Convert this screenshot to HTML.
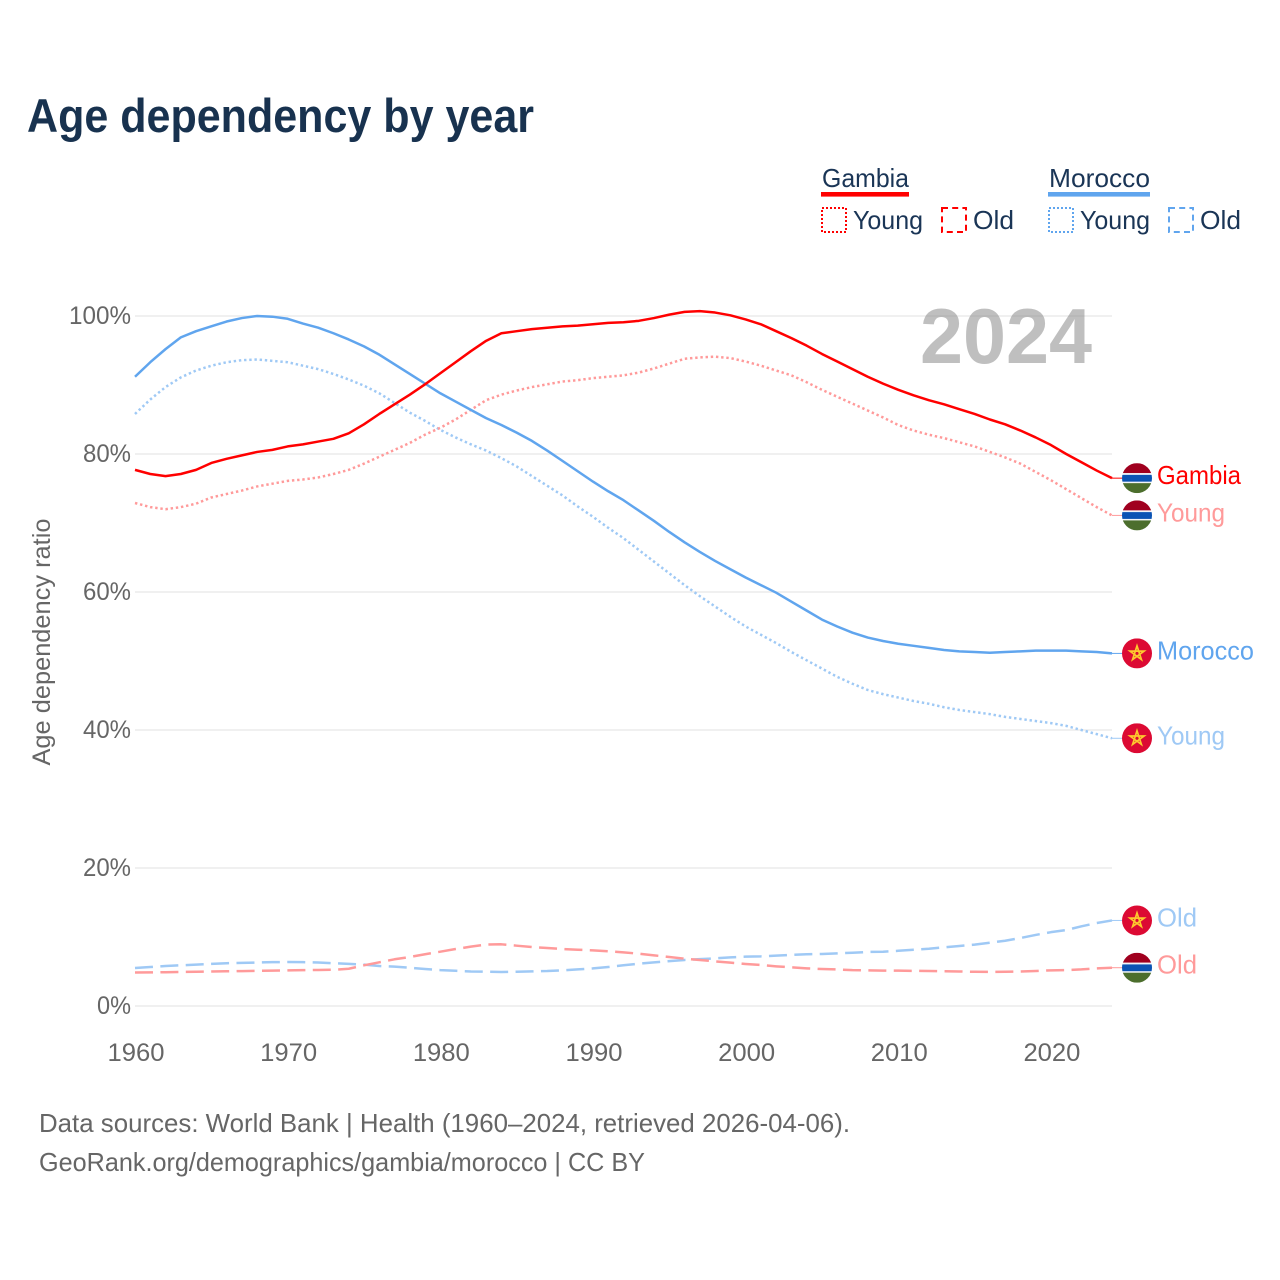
<!DOCTYPE html>
<html lang="en">
<head>
<meta charset="utf-8">
<title>Age dependency by year</title>
<style>
html,body{margin:0;padding:0;background:#fff;}
svg{display:block;}
text{font-family:"Liberation Sans",sans-serif;}
</style>
</head>
<body>
<svg id="chart" xmlns="http://www.w3.org/2000/svg" width="1280" height="1280" viewBox="0 0 1280 1280">
  <defs>
    <clipPath id="flag-clip"><circle cx="0" cy="0" r="15"/></clipPath>
    <g id="flag-gambia" clip-path="url(#flag-clip)">
      <rect x="-15" y="-15" width="30" height="10" fill="#a0001f"/>
      <rect x="-15" y="-5" width="30" height="10" fill="#f2f4f8"/>
      <rect x="-15" y="-3.3" width="30" height="6.8" fill="#0b53b4"/>
      <rect x="-15" y="5" width="30" height="10" fill="#4c6e2d"/>
    </g>
    <g id="flag-morocco" clip-path="url(#flag-clip)">
      <rect x="-15" y="-15" width="30" height="30" fill="#dc0a33"/>
      <polygon points="0,-7.5 4.4,6.1 -7.1,-2.3 7.1,-2.3 -4.4,6.1" fill="none" stroke="#fdc92e" stroke-width="1.7"/>
    </g>
  </defs>

  <rect x="0" y="0" width="1280" height="1280" fill="#ffffff"/>

  <text x="27" y="132" font-size="47" font-weight="700" fill="#18324f" textLength="507" lengthAdjust="spacingAndGlyphs">Age dependency by year</text>

  <g font-size="26" fill="#1a3556">
    <text x="822" y="187" textLength="87" lengthAdjust="spacingAndGlyphs">Gambia</text>
    <rect x="821" y="192" width="88" height="4.6" fill="#ff0000"/>
    <rect x="822" y="208" width="24" height="24" fill="none" stroke="#ff0000" stroke-width="2" stroke-dasharray="2 2"/>
    <text x="853" y="229" textLength="70" lengthAdjust="spacingAndGlyphs">Young</text>
    <rect x="942" y="208" width="24" height="24" fill="none" stroke="#ff0000" stroke-width="2" stroke-dasharray="6 4.2"/>
    <text x="973" y="229" textLength="41" lengthAdjust="spacingAndGlyphs">Old</text>

    <text x="1049" y="187" textLength="101" lengthAdjust="spacingAndGlyphs">Morocco</text>
    <rect x="1048" y="192" width="102" height="4.6" fill="#60a5ee"/>
    <rect x="1049" y="208" width="24" height="24" fill="none" stroke="#60a5ee" stroke-width="2" stroke-dasharray="2 2"/>
    <text x="1080" y="229" textLength="70" lengthAdjust="spacingAndGlyphs">Young</text>
    <rect x="1169" y="208" width="24" height="24" fill="none" stroke="#60a5ee" stroke-width="2" stroke-dasharray="6 4.2"/>
    <text x="1200" y="229" textLength="41" lengthAdjust="spacingAndGlyphs">Old</text>
  </g>

  <g id="grid"></g>
  <g id="yticks"></g>
  <g id="xticks"></g>

  <text transform="translate(50,642) rotate(-90)" text-anchor="middle" font-size="25" fill="#666666" textLength="247" lengthAdjust="spacingAndGlyphs">Age dependency ratio</text>

  <text x="920" y="363" font-size="78" font-weight="700" fill="#808080" fill-opacity="0.5" textLength="172" lengthAdjust="spacingAndGlyphs">2024</text>

  <g id="series"></g>
  <g id="endlabels"></g>

  <text x="39" y="1132" font-size="26" fill="#666666" textLength="811" lengthAdjust="spacingAndGlyphs">Data sources: World Bank | Health (1960–2024, retrieved 2026-04-06).</text>
  <text x="39" y="1171" font-size="26" fill="#666666" textLength="606" lengthAdjust="spacingAndGlyphs">GeoRank.org/demographics/gambia/morocco | CC BY</text>
</svg>

<script>
const years = [1960,1961,1962,1963,1964,1965,1966,1967,1968,1969,1970,1971,1972,1973,1974,1975,1976,1977,1978,1979,1980,1981,1982,1983,1984,1985,1986,1987,1988,1989,1990,1991,1992,1993,1994,1995,1996,1997,1998,1999,2000,2001,2002,2003,2004,2005,2006,2007,2008,2009,2010,2011,2012,2013,2014,2015,2016,2017,2018,2019,2020,2021,2022,2023,2024];
const yTickValues = [0,20,40,60,80,100];
const xTickValues = [1960,1970,1980,1990,2000,2010,2020];

const gambiaTotal = [77.7,77.1,76.8,77.1,77.7,78.7,79.3,79.8,80.3,80.6,81.1,81.4,81.8,82.2,83,84.3,85.8,87.2,88.6,90.1,91.7,93.3,94.9,96.4,97.5,97.8,98.1,98.3,98.5,98.6,98.8,99,99.1,99.3,99.7,100.2,100.6,100.7,100.5,100.1,99.5,98.8,97.8,96.8,95.7,94.5,93.4,92.3,91.2,90.2,89.3,88.5,87.8,87.2,86.5,85.8,85,84.3,83.4,82.4,81.3,80,78.8,77.6,76.5];
const gambiaYoung = [72.9,72.3,72,72.3,72.8,73.7,74.2,74.7,75.3,75.7,76.1,76.3,76.6,77.1,77.7,78.6,79.6,80.6,81.6,82.8,83.8,85,86.4,87.8,88.6,89.2,89.7,90.1,90.5,90.7,91,91.2,91.4,91.8,92.4,93.1,93.8,94,94.1,93.9,93.4,92.8,92.1,91.4,90.4,89.3,88.3,87.3,86.3,85.3,84.2,83.4,82.8,82.3,81.7,81.1,80.3,79.5,78.6,77.4,76.2,74.9,73.6,72.3,71.1];
const gambiaOld = [4.85,4.87,4.9,4.93,4.96,5,5.03,5.06,5.1,5.13,5.17,5.2,5.22,5.25,5.4,5.9,6.33,6.77,7.1,7.5,7.87,8.26,8.6,8.9,8.94,8.74,8.55,8.4,8.26,8.16,8.07,7.93,7.78,7.58,7.34,7.1,6.86,6.67,6.47,6.28,6.09,5.94,5.75,5.6,5.46,5.36,5.3,5.2,5.17,5.13,5.12,5.09,5.07,5.03,5,4.96,4.95,4.96,5,5.07,5.17,5.2,5.3,5.46,5.55];
const moroccoTotal = [91.2,93.3,95.2,96.9,97.8,98.5,99.2,99.7,100,99.9,99.6,98.9,98.3,97.5,96.6,95.6,94.4,93,91.6,90.2,88.8,87.6,86.4,85.2,84.2,83.1,81.9,80.5,79,77.5,76,74.6,73.3,71.8,70.3,68.7,67.2,65.8,64.5,63.3,62.1,61,59.9,58.6,57.3,56,55,54.1,53.4,52.9,52.5,52.2,51.9,51.6,51.4,51.3,51.2,51.3,51.4,51.5,51.5,51.5,51.4,51.3,51.1];
const moroccoYoung = [85.8,87.9,89.7,91.1,92.1,92.8,93.3,93.6,93.7,93.5,93.3,92.8,92.3,91.6,90.8,89.9,88.8,87.4,86,84.8,83.5,82.4,81.4,80.5,79.4,78.2,76.8,75.4,74,72.4,70.9,69.3,67.8,66.1,64.4,62.7,61,59.4,57.9,56.4,55,53.8,52.6,51.3,50.1,48.9,47.7,46.7,45.8,45.2,44.7,44.2,43.8,43.3,42.9,42.6,42.3,41.9,41.6,41.3,41,40.6,40,39.4,38.8];
const moroccoOld = [5.5,5.65,5.8,5.9,6,6.1,6.2,6.25,6.3,6.35,6.38,6.35,6.3,6.2,6.1,6,5.8,5.7,5.55,5.36,5.2,5.1,5,4.97,4.93,4.97,5.02,5.07,5.17,5.3,5.45,5.65,5.9,6.13,6.33,6.5,6.67,6.8,6.9,7.05,7.15,7.2,7.3,7.4,7.5,7.54,7.63,7.72,7.83,7.87,8,8.16,8.3,8.5,8.7,8.9,9.17,9.46,9.85,10.3,10.7,11,11.55,12.03,12.4];

const NS = 'http://www.w3.org/2000/svg';
const RED = '#ff0000', BLUE = '#60a5ee', RED_SOFT = '#ff9a9a', BLUE_SOFT = '#9fc9f5';
const xScale = function (yr) { return 135 + (yr - 1960) * (977 / 64); };
const yScale = function (v) { return 1006 - v * 6.9; };

function mk(tag, attrs, parent) {
  const el = document.createElementNS(NS, tag);
  for (const k in attrs) el.setAttribute(k, attrs[k]);
  parent.appendChild(el);
  return el;
}

const gridG = document.getElementById('grid');
const yG = document.getElementById('yticks');
yTickValues.forEach(function (v) {
  const line = mk('line', {x1: 135, x2: 1112, y1: yScale(v), y2: yScale(v), stroke: '#ebebeb', 'stroke-width': 1.5}, gridG);
  
  
  const label = v + '%';
  const t = mk('text', {x: 131, y: yScale(v) + 8, 'text-anchor': 'end', 'font-size': 25, fill: '#666666', textLength: 6 + label.length * 14, lengthAdjust: 'spacingAndGlyphs'}, yG);
  t.textContent = label;
  
  
});

const xG = document.getElementById('xticks');
xTickValues.forEach(function (yr) {
  const t = mk('text', {x: xScale(yr) + 1, y: 1061, 'text-anchor': 'middle', 'font-size': 25, fill: '#666666', textLength: 57, lengthAdjust: 'spacingAndGlyphs'}, xG);
  t.textContent = String(yr);
  
  
});

function drawSeries(name, values, color, dash, label, flag) {
  const seriesG = document.getElementById('series');
  const endG = document.getElementById('endlabels');
  const d = values.map(function (v, i) {
    return (i ? 'L' : 'M') + xScale(years[i]).toFixed(2) + ' ' + yScale(v).toFixed(2);
  }).join(' ');
  const attrs = {d: d, fill: 'none', stroke: color, 'stroke-width': 2.5, 'stroke-linejoin': 'round'};
  if (dash) attrs['stroke-dasharray'] = dash;
  const path = mk('path', attrs, seriesG);
  
  

  const endY = yScale(values[values.length - 1]);
  const leader = mk('line', {x1: 1112, x2: 1122, y1: endY, y2: endY, stroke: color, 'stroke-width': 1}, endG);
  
  

  const use = mk('use', {href: '#flag-' + flag, transform: 'translate(1137,' + endY + ')'}, endG);
  
  

  const widths = {Gambia: 84, Morocco: 97, Young: 68, Old: 40};
  const t = mk('text', {x: 1157, y: endY + 6, 'font-size': 26, fill: color, textLength: widths[label], lengthAdjust: 'spacingAndGlyphs'}, endG);
  t.textContent = label;
  
  
}

drawSeries('morocco-old', moroccoOld, BLUE_SOFT, '18 7.4', 'Old', 'morocco');
drawSeries('gambia-old', gambiaOld, RED_SOFT, '18 7.4', 'Old', 'gambia');
drawSeries('morocco-young', moroccoYoung, BLUE_SOFT, '2.4 2.8', 'Young', 'morocco');
drawSeries('gambia-young', gambiaYoung, RED_SOFT, '2.4 2.8', 'Young', 'gambia');
drawSeries('morocco-total', moroccoTotal, BLUE, null, 'Morocco', 'morocco');
drawSeries('gambia-total', gambiaTotal, RED, null, 'Gambia', 'gambia');
</script>
</body>
</html>
